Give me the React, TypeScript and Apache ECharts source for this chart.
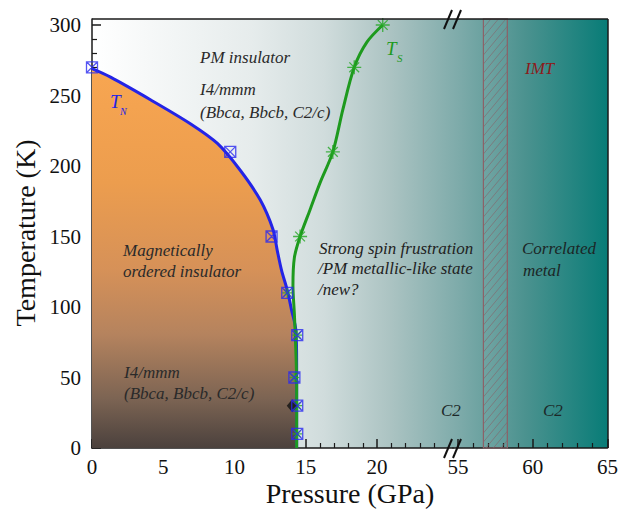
import React, { useEffect, useRef } from 'react';
import * as echarts from 'echarts';

// T_N phase boundary (pressure GPa, temperature K)
const tnCurveP = [0, 1.3, 4.1, 6.9, 8.8, 10.4, 11.8, 12.7, 13.0, 13.3, 13.7, 14.0, 14.3, 14.36, 14.36];
const tnCurveT = [269, 263, 247, 230, 216, 197, 176, 155, 140, 126, 112, 98, 84, 60, 0];
// T_S boundary
const tsCurveP = [14.36, 14.36, 14.3, 14.2, 14.1, 14.2, 14.6, 15.3, 16.0, 16.9, 17.6, 18.4, 19.3, 20.4];
const tsCurveT = [0, 45, 70, 95, 115, 135, 150, 169, 188, 210, 240, 270, 288, 300];
// measured points
const tnMarkP = [0, 9.7, 12.6, 13.7, 14.4, 14.2, 14.4, 14.4];
const tnMarkT = [270, 210, 150, 110, 80, 50, 30, 10];
const tsMarkP = [14.6, 16.9, 18.4, 20.4];
const tsMarkT = [150, 210, 270, 300];
const tsLowMarkP = [13.7, 14.4, 14.2, 14.4, 14.4];
const tsLowMarkT = [110, 80, 50, 30, 10];
const diamondP = [14.05];
const diamondT = [30];
// IMT pressure band (GPa)
const imtBand = [56.7, 58.3];

// ticks
const xMajorLeft = [0, 5, 10, 15, 20];
const xMinorLeft = [1, 2, 3, 4, 6, 7, 8, 9, 11, 12, 13, 14, 16, 17, 18, 19, 21, 22, 23, 24];
const xMajorRight = [55, 60, 65];
const xMinorRight = [56, 57, 58, 59, 61, 62, 63, 64];
const yMajor = [0, 50, 100, 150, 200, 250, 300];
const yMinor = [10, 20, 30, 40, 60, 70, 80, 90, 110, 120, 130, 140, 160, 170, 180, 190, 210, 220, 230, 240, 260, 270, 280, 290];

const zip = (a: number[], b: number[]) => a.map((v, i) => [v, b[i]]);

const SERIF = 'Liberation Serif, Times New Roman, DejaVu Serif, serif';
const AX = { color: '#1a1a1a', width: 1.5 };
const LBL = { color: '#111', fontSize: 21, fontFamily: SERIF };

const SQX = 'path://M0,0H10V10H0Z M0,0L10,10 M10,0L0,10';
const STAR = 'path://M5,0V10 M0,5H10 M1.5,1.5L8.5,8.5 M8.5,1.5L1.5,8.5';

function txt(text: string, x: number, y: number, size: number, fill: string, italic = true, extra: any = {}) {
  return {
    type: 'text',
    x,
    y,
    z: 20,
    silent: true,
    ...extra,
    style: {
      text,
      fontFamily: SERIF,
      fontSize: size,
      fontStyle: italic ? 'italic' : 'normal',
      fill,
      align: extra.align || 'left',
      textAlign: extra.align || 'left',
      verticalAlign: 'middle',
      textVerticalAlign: 'middle',
    },
  };
}

function majorAxis(grid: number, min: number, max: number, ticks: number[], isY: boolean) {
  return {
    gridIndex: grid,
    type: 'value',
    min,
    max,
    position: isY ? 'left' : 'bottom',
    axisLine: { show: true, lineStyle: AX },
    axisTick: { show: true, inside: true, length: 9, customValues: ticks, lineStyle: AX },
    axisLabel: { show: true, customValues: ticks, margin: isY ? 11 : 8, ...LBL },
    splitLine: { show: false },
    minorTick: { show: false },
  };
}
function minorAxis(grid: number, min: number, max: number, ticks: number[], isY: boolean) {
  return {
    gridIndex: grid,
    type: 'value',
    min,
    max,
    position: isY ? 'left' : 'bottom',
    axisLine: { show: false },
    axisTick: { show: true, inside: true, length: 5, customValues: ticks, lineStyle: { color: '#1a1a1a', width: 1.2 } },
    axisLabel: { show: false },
    splitLine: { show: false },
  };
}

const Y_MAX = 304.26;

export default function App() {
  const ref = useRef<HTMLDivElement>(null);
  useEffect(() => {
    if (!ref.current) return;
    const chart = echarts.init(ref.current, undefined, { renderer: 'svg' });
    const option: any = {
      animation: false,
      textStyle: { fontFamily: SERIF },
      grid: [
        { left: 92, top: 19, width: 361, height: 429 },
        { left: 453, top: 19, width: 155, height: 429 },
      ],
      xAxis: [
        majorAxis(0, 0, 25.33, xMajorLeft, false),
        minorAxis(0, 0, 25.33, xMinorLeft, false),
        majorAxis(1, 54.667, 65, xMajorRight, false),
        minorAxis(1, 54.667, 65, xMinorRight, false),
      ],
      yAxis: [
        majorAxis(0, 0, Y_MAX, yMajor, true),
        minorAxis(0, 0, Y_MAX, yMinor, true),
        { gridIndex: 1, type: 'value', min: 0, max: Y_MAX, show: false },
      ],
      graphic: [
        {
          type: 'rect',
          z: -1,
          silent: true,
          shape: { x: 92, y: 19, width: 516, height: 429 },
          style: {
            fill: new echarts.graphic.LinearGradient(0, 0, 1, 0, [
              { offset: 0, color: '#ffffff' },
              { offset: 0.31, color: '#e6ecec' },
              { offset: 0.45, color: '#d0dcdc' },
              { offset: 0.58, color: '#abc3c2' },
              { offset: 0.71, color: '#7eabaa' },
              { offset: 0.84, color: '#4b928f' },
              { offset: 1, color: '#087c77' },
            ]),
          },
        },
        { type: 'line', z: 15, silent: true, shape: { x1: 92, y1: 19, x2: 608, y2: 19 }, style: { stroke: '#1a1a1a', lineWidth: 1.5 } },
        { type: 'line', z: 15, silent: true, shape: { x1: 608, y1: 19, x2: 608, y2: 448 }, style: { stroke: '#1a1a1a', lineWidth: 1.5 } },
        // axis break marks
        { type: 'line', z: 16, silent: true, shape: { x1: 444, y1: 29, x2: 452, y2: 10 }, style: { stroke: '#111', lineWidth: 2 } },
        { type: 'line', z: 16, silent: true, shape: { x1: 453, y1: 29, x2: 461, y2: 10 }, style: { stroke: '#111', lineWidth: 2 } },
        { type: 'line', z: 16, silent: true, shape: { x1: 444, y1: 458, x2: 452, y2: 439 }, style: { stroke: '#111', lineWidth: 2 } },
        { type: 'line', z: 16, silent: true, shape: { x1: 453, y1: 458, x2: 461, y2: 439 }, style: { stroke: '#111', lineWidth: 2 } },
        // annotations
        txt('PM insulator', 200, 57, 17, '#2a2a2a'),
        txt('I4/mmm', 200, 89.5, 17, '#2a2a2a'),
        txt('(Bbca, Bbcb, C2/c)', 200, 112.5, 17, '#2a2a2a'),
        txt('Magnetically', 123, 250.5, 17, '#2a2a2a'),
        txt('ordered insulator', 123, 271, 17, '#2a2a2a'),
        txt('I4/mmm', 124, 372, 17, '#2a2a2a'),
        txt('(Bbca, Bbcb, C2/c)', 124, 393.5, 17, '#2a2a2a'),
        txt('Strong spin frustration', 319, 248.5, 17, '#222'),
        txt('/PM metallic-like state', 318, 268.5, 17, '#222'),
        txt('/new?', 318, 289, 17, '#222'),
        txt('Correlated', 522, 248.5, 17, '#1c2626'),
        txt('metal', 523, 270.5, 17, '#1c2626'),
        txt('C2', 441, 410.5, 17, '#1c2828'),
        txt('C2', 543, 410.5, 17, '#1c2828'),
        txt('IMT', 525, 68.5, 17, '#8b1c1c'),
        txt('T', 110, 101, 19, '#2424e6'),
        txt('N', 120, 111, 10, '#2424e6'),
        txt('T', 386, 48, 19, '#1e9a1e'),
        txt('S', 397, 58, 11, '#1e9a1e'),
        txt('Pressure (GPa)', 350, 493, 28, '#111', false, { align: 'center' }),
        txt('Temperature (K)', 25, 233, 28, '#111', false, { align: 'center', rotation: Math.PI / 2 }),
      ],
      series: [
        {
          type: 'custom',
          xAxisIndex: 2,
          yAxisIndex: 2,
          z: 1,
          clip: false,
          silent: true,
          data: [imtBand],
          encode: { x: [0, 1] },
          renderItem: (params: any, api: any) => {
            const x0 = api.coord([api.value(0), 0])[0];
            const x1 = api.coord([api.value(1), 0])[0];
            const cs = params.coordSys;
            const yt = cs.y;
            const yb = cs.y + cs.height;
            const w = x1 - x0;
            const s = 1.2;
            const sp = 9;
            const children: any[] = [];
            for (let yk = yt; yk <= yb + s * w + sp; yk += sp) {
              const xs = Math.max(x0, x0 + (yk - yb) / s);
              const xe = Math.min(x1, x0 + (yk - yt) / s);
              if (xe > xs) {
                children.push({
                  type: 'line',
                  shape: { x1: xs, y1: yk - s * (xs - x0), x2: xe, y2: yk - s * (xe - x0) },
                  style: { stroke: '#7d6369', lineWidth: 0.9, opacity: 0.75 },
                });
              }
            }
            children.push({
              type: 'rect',
              shape: { x: x0, y: yt, width: w, height: yb - yt },
              style: { fill: 'rgba(255,255,255,0.04)', stroke: '#8c6168', lineWidth: 1.2 },
            });
            return { type: 'group', children };
          },
        },
        {
          type: 'line',
          xAxisIndex: 0,
          yAxisIndex: 0,
          z: 2,
          data: zip(tnCurveP, tnCurveT),
          smooth: 0.3,
          symbol: 'none',
          lineStyle: { color: '#2424e6', width: 3 },
          areaStyle: {
            origin: 'start',
            opacity: 1,
            color: new echarts.graphic.LinearGradient(0, 0, 0, 1, [
              { offset: 0, color: '#f8a651' },
              { offset: 0.3, color: '#ec9d4e' },
              { offset: 0.53, color: '#d69158' },
              { offset: 0.7, color: '#b5835e' },
              { offset: 0.87, color: '#7c6453' },
              { offset: 1, color: '#4b413d' },
            ]),
          },
        },
        {
          type: 'line',
          xAxisIndex: 0,
          yAxisIndex: 0,
          z: 3,
          data: zip(tsCurveP, tsCurveT),
          smooth: 0.3,
          symbol: 'none',
          lineStyle: { color: '#1e9a1e', width: 3 },
        },
        {
          type: 'scatter',
          xAxisIndex: 0,
          yAxisIndex: 0,
          z: 4,
          data: zip(tsLowMarkP, tsLowMarkT),
          symbol: STAR,
          symbolSize: 10,
          itemStyle: { color: 'rgba(0,0,0,0)', borderColor: '#2aa82a', borderWidth: 1.2 },
        },
        {
          type: 'scatter',
          xAxisIndex: 0,
          yAxisIndex: 0,
          z: 5,
          data: zip(diamondP, diamondT),
          symbol: 'diamond',
          symbolSize: [11, 13],
          itemStyle: { color: '#111' },
        },
        {
          type: 'scatter',
          xAxisIndex: 0,
          yAxisIndex: 0,
          z: 6,
          data: zip(tnMarkP, tnMarkT),
          symbol: SQX,
          symbolSize: 11,
          itemStyle: { color: 'rgba(0,0,0,0)', borderColor: '#2a2af0', borderWidth: 1.3 },
        },
        {
          type: 'scatter',
          xAxisIndex: 0,
          yAxisIndex: 0,
          z: 6,
          data: zip(tsMarkP, tsMarkT),
          symbol: STAR,
          symbolSize: 14,
          itemStyle: { color: 'rgba(0,0,0,0)', borderColor: '#22a622', borderWidth: 1.3 },
        },
      ],
    };
    chart.setOption(option);
    return () => chart.dispose();
  }, []);
  return (
    <div
      ref={ref}
      style={{ position: 'fixed', left: 0, top: 0, width: 621, height: 511, background: '#ffffff' }}
    />
  );
}
